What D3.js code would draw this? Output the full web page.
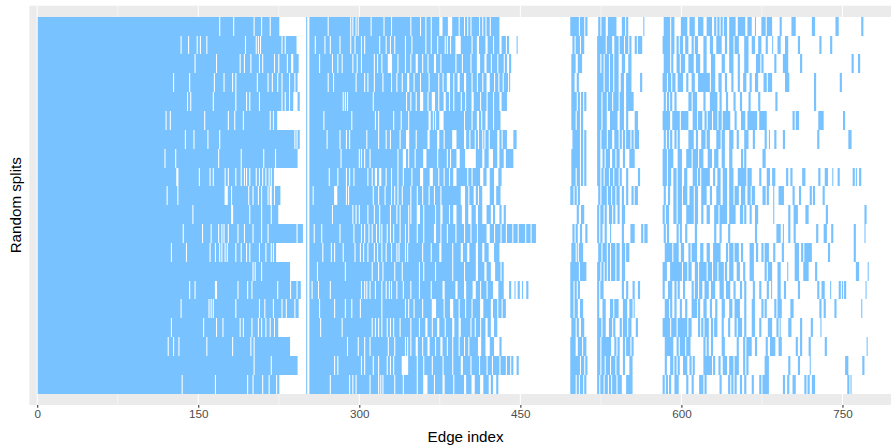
<!DOCTYPE html>
<html><head><meta charset="utf-8">
<script src="https://cdn.jsdelivr.net/npm/d3@7"></script>
<style>body{margin:0;background:#fff}svg{display:block}</style>
</head><body><svg id="chart" width="891" height="448"></svg>
<script>
// ---- data ----
const splitLabels = ["1","2","3","4","5","6","7","8","9","10","11","12","13","14","15","16","17","18","19","20"];
const edgeCount = 797;
const xTicks = [0,150,300,450,600,750];
const xMinorTicks = [75,225,375,525,675];
const xTitle = "Edge index";
const yTitle = "Random splits";
// blue runs per split: [firstEdge, lastEdge] (inclusive)
const split01 = [[1,169],[171,182],[184,201],[203,208],[210,216],[218,225],[251,251],[254,270],[272,291],[293,293],[295,296],[298,298],[300,310],[312,322],[324,329],[331,347],[349,356],[358,361],[363,366],[368,374],[378,382],[387,392],[394,397],[399,400],[402,403],[405,411],[413,414],[416,417],[419,421],[423,430],[497,504],[506,509],[511,512],[523,524],[526,529],[532,539],[545,547],[549,550],[565,565],[584,589],[591,593],[600,605],[608,612],[616,620],[624,628],[631,632],[634,635],[637,638],[640,642],[645,650],[653,659],[662,665],[669,669],[675,678],[680,684],[692,693],[703,706],[722,724],[744,746],[768,769]];
const split02 = [[1,133],[135,140],[142,148],[150,151],[153,157],[159,193],[195,203],[205,205],[207,207],[209,227],[229,230],[232,241],[251,251],[254,258],[260,267],[269,272],[274,281],[283,291],[293,295],[297,301],[303,304],[306,318],[320,324],[326,328],[330,332],[334,342],[344,348],[350,361],[363,366],[368,372],[374,379],[381,381],[383,384],[386,389],[395,404],[406,409],[412,417],[420,424],[426,430],[433,436],[438,439],[447,447],[499,500],[502,505],[507,509],[522,529],[531,535],[538,541],[543,546],[548,550],[552,553],[557,558],[560,563],[583,589],[591,593],[596,597],[599,601],[604,606],[610,611],[613,615],[621,623],[627,629],[633,637],[641,642],[645,648],[650,653],[659,662],[666,668],[672,674],[679,680],[685,685],[690,692],[697,699],[709,710],[729,730],[739,740]];
const split03 = [[1,146],[148,166],[168,188],[190,192],[194,198],[200,206],[208,209],[211,220],[222,224],[226,232],[234,236],[239,243],[251,251],[254,262],[264,274],[276,279],[281,283],[285,293],[295,297],[299,301],[303,313],[315,316],[318,320],[322,326],[331,335],[337,342],[344,347],[349,352],[355,358],[360,363],[365,369],[372,375],[377,389],[391,395],[397,403],[405,409],[413,416],[419,422],[424,428],[430,434],[436,437],[440,441],[498,501],[504,507],[522,524],[526,527],[529,532],[534,536],[538,541],[545,547],[551,553],[584,589],[591,592],[596,598],[600,603],[607,611],[614,617],[621,623],[628,631],[638,640],[645,648],[653,654],[659,662],[670,673],[675,676],[687,688],[695,699],[711,712],[759,760],[765,766]];
const split04 = [[1,126],[128,141],[143,164],[166,173],[175,181],[183,184],[186,204],[206,214],[216,218],[220,223],[225,227],[229,234],[236,239],[241,242],[251,251],[254,270],[272,275],[277,296],[298,304],[306,307],[309,313],[315,321],[323,329],[331,334],[336,339],[341,344],[347,350],[352,356],[358,364],[366,373],[375,377],[379,381],[385,387],[389,391],[394,397],[400,404],[406,409],[411,414],[416,418],[422,425],[427,429],[431,433],[435,438],[440,440],[498,500],[503,504],[522,527],[529,532],[534,536],[538,541],[544,546],[549,553],[562,563],[583,586],[588,590],[592,594],[597,601],[605,606],[610,612],[616,626],[628,631],[635,637],[641,642],[647,648],[653,654],[658,660],[664,665],[669,671],[677,679],[681,684],[697,700],[724,725],[748,749]];
const split05 = [[1,139],[141,142],[144,163],[165,184],[186,194],[196,197],[199,206],[208,227],[229,230],[232,234],[236,238],[243,244],[251,251],[254,284],[286,286],[288,288],[290,312],[314,343],[345,347],[349,352],[354,356],[360,363],[365,367],[371,373],[375,378],[381,383],[385,387],[389,394],[396,398],[400,404],[407,412],[414,418],[420,424],[426,430],[433,437],[498,502],[504,505],[507,508],[510,511],[522,525],[527,530],[532,535],[537,541],[543,546],[549,555],[584,585],[587,588],[590,591],[594,595],[607,609],[611,614],[621,622],[627,633],[636,637],[642,643],[649,650],[655,656],[663,664],[672,673],[688,689],[724,725]];
const split06 = [[1,119],[121,123],[125,155],[157,177],[179,183],[185,191],[193,216],[218,219],[221,223],[251,251],[254,266],[268,292],[294,314],[316,317],[319,331],[333,338],[340,345],[347,364],[367,368],[370,370],[372,374],[379,397],[399,404],[406,409],[412,413],[415,417],[420,424],[426,431],[498,501],[503,505],[507,508],[522,525],[527,530],[534,540],[543,546],[549,550],[557,559],[583,589],[592,598],[600,606],[611,614],[616,619],[622,623],[625,628],[630,633],[635,637],[639,645],[650,651],[656,659],[662,670],[673,679],[704,705],[707,709],[728,732],[751,752]];
const split07 = [[1,137],[139,145],[147,158],[160,169],[171,239],[241,241],[243,244],[251,251],[254,269],[271,281],[283,287],[289,290],[292,306],[308,317],[319,324],[326,328],[330,337],[339,343],[347,352],[354,363],[366,372],[375,378],[380,386],[391,397],[400,402],[404,407],[409,410],[412,414],[416,416],[418,420],[422,428],[431,432],[434,437],[444,446],[499,505],[507,508],[510,511],[522,524],[526,530],[532,535],[538,541],[543,544],[546,547],[549,552],[554,555],[557,560],[584,585],[587,588],[590,591],[594,595],[597,598],[607,611],[614,615],[619,622],[624,626],[633,636],[638,640],[645,648],[652,653],[659,662],[667,668],[678,679],[682,682],[687,688],[695,696],[727,728],[756,758]];
const split08 = [[1,118],[120,128],[130,168],[170,189],[191,210],[212,221],[223,242],[251,251],[254,282],[284,299],[301,301],[303,304],[306,309],[311,335],[337,340],[344,345],[347,351],[353,359],[363,372],[374,381],[383,384],[386,390],[394,398],[409,414],[417,420],[425,428],[431,434],[437,443],[498,505],[507,508],[510,511],[522,524],[527,528],[530,533],[536,538],[540,542],[546,547],[552,556],[583,586],[588,592],[597,600],[605,609],[611,615],[617,620],[625,628],[631,634],[638,640],[645,647],[656,657],[659,660],[676,678]];
const split09 = [[1,129],[132,150],[152,160],[162,163],[165,174],[176,177],[179,184],[186,189],[191,192],[194,194],[196,197],[199,203],[205,206],[208,209],[211,212],[214,215],[217,217],[219,220],[251,251],[254,271],[273,279],[281,287],[289,290],[292,294],[296,307],[309,311],[313,314],[317,318],[321,324],[326,329],[331,335],[337,340],[342,348],[350,356],[360,365],[369,373],[375,378],[380,383],[385,387],[391,400],[402,404],[406,412],[416,418],[422,425],[430,432],[498,501],[503,505],[507,508],[510,511],[522,524],[526,527],[529,532],[534,536],[538,541],[543,544],[549,550],[560,561],[583,586],[588,590],[593,595],[597,600],[603,605],[611,614],[616,617],[619,626],[630,631],[634,636],[639,642],[645,648],[653,660],[662,665],[673,674],[680,682],[685,687],[698,699],[702,703],[713,715],[728,729],[734,736],[741,741],[746,747],[760,761],[763,763],[766,767]];
const split10 = [[1,120],[122,130],[132,174],[178,180],[182,196],[198,200],[202,205],[207,208],[210,214],[216,216],[219,220],[222,226],[251,251],[254,256],[258,276],[280,287],[289,289],[291,312],[314,317],[319,323],[325,329],[331,332],[334,335],[337,339],[341,347],[349,353],[355,358],[360,364],[366,369],[371,375],[377,394],[399,401],[403,406],[409,410],[412,414],[422,425],[428,431],[497,499],[501,502],[504,505],[523,524],[526,530],[532,534],[536,538],[540,542],[545,546],[549,550],[554,555],[557,559],[584,585],[588,589],[593,595],[597,600],[602,605],[608,611],[613,615],[619,623],[627,628],[633,636],[639,642],[645,648],[650,653],[656,659],[662,664],[666,668],[676,678],[680,681],[686,686],[691,695],[704,705],[710,711],[720,721],[723,724],[732,733]];
const split11 = [[1,144],[146,180],[183,197],[199,208],[210,217],[219,224],[251,251],[254,274],[276,293],[295,296],[298,299],[301,307],[309,313],[315,318],[320,328],[330,334],[336,337],[339,345],[347,347],[349,353],[357,359],[361,370],[372,375],[378,383],[385,387],[391,395],[399,401],[405,408],[411,414],[419,422],[425,426],[431,432],[435,436],[503,504],[507,509],[522,523],[525,527],[529,530],[533,535],[537,538],[541,542],[545,547],[583,584],[586,588],[593,595],[597,600],[605,611],[613,615],[619,620],[624,626],[631,634],[636,642],[645,650],[655,657],[659,660],[664,665],[669,671],[686,686],[700,701],[705,708],[716,718],[735,736],[771,772]];
const split12 = [[1,135],[137,153],[155,161],[163,168],[170,171],[173,173],[175,177],[179,186],[188,192],[194,200],[202,208],[210,214],[216,241],[243,247],[251,251],[254,257],[259,264],[266,281],[283,294],[296,301],[303,304],[306,308],[310,311],[313,315],[317,318],[320,320],[322,325],[327,328],[330,331],[333,337],[339,342],[344,345],[347,353],[355,359],[361,369],[372,375],[377,381],[383,389],[391,397],[399,403],[405,409],[411,418],[422,425],[427,431],[433,436],[438,442],[444,447],[449,454],[456,459],[461,464],[499,500],[502,503],[506,507],[511,512],[522,523],[525,526],[529,530],[534,534],[545,546],[553,556],[563,564],[566,568],[584,585],[587,588],[596,597],[599,600],[604,605],[613,614],[631,632],[636,637],[644,645],[669,670],[689,692],[695,695],[700,701],[705,706],[726,727],[733,735],[740,741],[761,762],[771,771]];
const split13 = [[1,124],[126,138],[140,160],[162,165],[167,169],[171,171],[173,174],[176,176],[178,184],[186,189],[191,194],[196,197],[199,206],[208,212],[214,217],[219,219],[221,222],[251,251],[254,265],[267,273],[275,276],[278,284],[286,295],[297,300],[302,303],[305,307],[309,313],[315,316],[318,320],[322,324],[326,329],[331,334],[336,336],[338,342],[344,344],[346,358],[360,366],[368,374],[377,386],[388,394],[397,400],[403,408],[411,414],[417,420],[426,430],[498,501],[503,503],[505,508],[523,525],[527,530],[532,533],[535,538],[540,542],[545,547],[549,551],[585,591],[593,597],[600,602],[607,608],[610,614],[618,620],[624,626],[630,636],[642,643],[645,648],[650,653],[656,657],[664,667],[670,671],[675,676],[678,681],[686,687],[694,695],[706,709],[712,713],[715,721],[737,738],[761,762]];
const split14 = [[1,200],[202,202],[204,208],[210,235],[251,251],[254,260],[262,286],[288,311],[313,317],[319,321],[323,332],[334,339],[341,355],[357,359],[361,370],[372,386],[388,397],[399,408],[411,416],[419,422],[427,431],[433,434],[497,504],[506,511],[522,524],[526,527],[529,530],[532,533],[535,538],[540,542],[545,547],[583,586],[590,600],[602,605],[607,609],[613,615],[617,623],[625,628],[630,633],[635,639],[641,642],[645,648],[652,654],[658,659],[664,667],[678,679],[681,684],[690,692],[699,699],[706,709],[714,718],[725,726],[763,765],[774,774]];
const split15 = [[1,141],[143,146],[148,165],[168,186],[188,195],[197,199],[201,223],[225,235],[237,241],[243,245],[251,251],[254,255],[257,261],[263,272],[274,301],[303,304],[306,306],[308,309],[311,314],[316,320],[322,324],[326,327],[329,329],[331,334],[336,340],[342,347],[349,355],[357,366],[368,377],[380,389],[392,397],[400,405],[409,412],[414,418],[420,424],[430,434],[440,441],[445,445],[448,449],[452,452],[456,457],[497,499],[501,502],[504,505],[522,523],[525,527],[545,546],[549,550],[555,556],[560,561],[583,584],[588,591],[594,595],[597,598],[602,603],[610,611],[613,615],[617,619],[622,625],[628,631],[636,639],[642,645],[649,650],[655,656],[659,660],[667,668],[673,674],[680,681],[684,684],[690,692],[696,697],[709,710],[727,728],[731,733],[739,739],[747,748],[750,750],[752,753],[772,772]];
const split16 = [[1,133],[135,159],[161,161],[163,163],[165,184],[186,206],[208,211],[213,219],[221,227],[229,231],[233,239],[241,243],[251,251],[254,262],[264,276],[278,286],[288,292],[294,300],[302,320],[322,342],[344,345],[347,350],[352,358],[360,367],[372,378],[380,384],[388,392],[394,398],[400,404],[406,412],[416,422],[425,428],[430,432],[434,436],[497,499],[501,503],[506,508],[522,523],[527,529],[534,536],[538,541],[546,549],[552,554],[556,556],[585,588],[590,591],[594,595],[599,600],[604,605],[610,614],[616,617],[621,623],[627,628],[632,633],[638,640],[645,647],[650,654],[659,660],[666,668],[675,676],[678,679],[687,688],[690,693],[702,704],[729,730],[733,734],[743,744],[768,768]];
const split17 = [[1,124],[126,154],[156,166],[168,172],[174,188],[190,191],[193,199],[201,205],[207,208],[210,212],[214,216],[218,220],[222,224],[251,251],[254,263],[265,283],[285,311],[313,314],[316,317],[319,320],[322,325],[327,328],[330,331],[333,337],[339,347],[349,355],[357,361],[364,367],[369,372],[375,379],[381,386],[389,392],[395,403],[405,407],[409,412],[414,417],[420,422],[426,428],[498,501],[503,504],[507,509],[522,525],[527,529],[533,535],[537,538],[543,544],[546,549],[551,553],[558,559],[583,589],[591,595],[597,605],[607,609],[616,617],[619,620],[622,625],[628,629],[631,633],[638,639],[644,645],[650,651],[653,656],[659,660],[666,668],[673,674],[681,684],[689,690],[692,692],[700,702],[711,712],[721,722],[730,730]];
const split18 = [[1,121],[123,126],[128,131],[133,157],[159,181],[183,198],[200,201],[203,235],[251,251],[254,288],[290,298],[300,304],[306,309],[311,326],[328,332],[334,342],[344,344],[346,347],[349,352],[355,358],[360,363],[366,370],[372,375],[378,381],[383,386],[388,392],[394,397],[399,401],[403,410],[414,417],[422,425],[431,432],[497,501],[504,507],[509,511],[522,524],[526,534],[538,539],[541,542],[546,547],[549,552],[554,555],[585,592],[596,597],[599,603],[605,608],[621,622],[624,625],[628,629],[638,640],[652,653],[658,659],[661,665],[669,670],[679,680],[683,687],[691,693],[707,708],[711,712],[719,720],[734,735],[773,773]];
const split19 = [[1,201],[203,217],[219,242],[251,251],[254,276],[278,279],[281,301],[303,304],[306,312],[314,317],[319,325],[327,328],[330,331],[333,339],[346,353],[355,359],[361,367],[369,377],[379,386],[388,394],[397,403],[405,411],[413,418],[420,423],[425,430],[432,436],[438,440],[442,443],[447,448],[497,505],[507,509],[511,512],[522,524],[526,528],[530,533],[535,538],[540,542],[546,547],[552,554],[585,586],[590,592],[594,595],[597,598],[602,605],[608,609],[611,612],[621,628],[630,631],[635,636],[639,642],[645,648],[650,653],[658,659],[661,662],[678,681],[700,701],[709,710],[720,720],[753,755],[769,770]];
const split20 = [[1,134],[136,165],[167,195],[197,200],[202,209],[211,215],[217,222],[224,225],[251,251],[254,272],[274,290],[292,293],[295,296],[298,309],[311,317],[319,319],[321,321],[323,332],[334,340],[342,353],[355,359],[364,369],[371,377],[380,387],[389,397],[400,404],[408,412],[416,420],[423,424],[428,429],[497,501],[503,504],[506,508],[510,511],[522,523],[525,527],[529,531],[533,534],[536,539],[541,544],[549,554],[583,584],[586,587],[589,590],[594,597],[605,606],[610,611],[617,620],[622,623],[636,637],[644,645],[647,648],[650,651],[655,656],[659,660],[666,667],[673,674],[676,681],[695,696],[699,700],[704,706],[715,716],[718,719],[722,724],[755,756],[758,758]];

const splitRuns = [split01,split02,split03,split04,split05,split06,split07,split08,split09,split10,
                   split11,split12,split13,split14,split15,split16,split17,split18,split19,split20];

// ---- layout ----
const W = 891, H = 448;
const panel = {left: 29.2, right: 902, top: 5.5, bottom: 405};
const blue = "#78C2FF";
const fontFam = "'Liberation Sans', Arial, Helvetica, sans-serif";

const lo = 0.5, hi = edgeCount + 0.5, pad = (hi - lo) * 0.01;
const x = d3.scaleLinear().domain([lo - pad, hi + pad]).range([panel.left, panel.right]);
const y = d3.scaleBand().domain(splitLabels).range([panel.top, panel.bottom])
  .paddingInner(0).paddingOuter(0.6);
const yTop = d => Math.round(y(d));
const yH = d => Math.round(y(d) + y.bandwidth()) - Math.round(y(d));

const svg = d3.select("#chart");
svg.append("defs").append("clipPath").attr("id","clip")
  .append("rect").attr("x",panel.left).attr("y",panel.top)
  .attr("width",panel.right-panel.left).attr("height",panel.bottom-panel.top);

const g = svg.append("g").attr("clip-path","url(#clip)");
g.append("rect").attr("x",panel.left).attr("y",panel.top)
  .attr("width",panel.right-panel.left).attr("height",panel.bottom-panel.top)
  .attr("fill","#EBEBEB");

g.selectAll("line.minor").data(xMinorTicks).join("line").attr("class","minor")
  .attr("x1",d=>x(d)).attr("x2",d=>x(d)).attr("y1",panel.top).attr("y2",panel.bottom)
  .attr("stroke","#fff").attr("stroke-width",0.53);
g.selectAll("line.major").data(xTicks).join("line").attr("class","major")
  .attr("x1",d=>x(d)).attr("x2",d=>x(d)).attr("y1",panel.top).attr("y2",panel.bottom)
  .attr("stroke","#fff").attr("stroke-width",1.07);

// white (zero) tiles covering all splits
const firstS = splitLabels[0], lastS = splitLabels[splitLabels.length-1];
g.append("rect").attr("x",x(0.5)).attr("width",x(edgeCount+0.5)-x(0.5))
  .attr("y",yTop(firstS)).attr("height",yTop(lastS)+yH(lastS)-yTop(firstS)).attr("fill","#ffffff");

// blue (one) tiles
const runData = [];
splitRuns.forEach((runs,i)=>runs.forEach(r=>runData.push({s:splitLabels[i],a:r[0],b:r[1]})));
g.selectAll("rect.on").data(runData).join("rect").attr("class","on")
  .attr("x",d=>x(d.a-0.5)).attr("width",d=>x(d.b+0.5)-x(d.a-0.5))
  .attr("y",d=>yTop(d.s)).attr("height",d=>yH(d.s)).attr("fill",blue);

// x axis
const ax = svg.append("g").attr("transform",`translate(0,${panel.bottom})`)
  .call(d3.axisBottom(x).tickValues(xTicks).tickSize(2.74).tickPadding(2.2).tickFormat(d3.format("d")));
ax.select(".domain").remove();
ax.selectAll(".tick line").attr("stroke","#333333").attr("stroke-width",1.07);
ax.selectAll(".tick text").attr("fill","#4D4D4D").attr("font-size","11.7px").attr("font-family",fontFam);

svg.append("text").attr("x",(panel.left+panel.right)/2).attr("y",442)
  .attr("text-anchor","middle").attr("font-family",fontFam).attr("font-size","15.2px")
  .attr("fill","#000").text(xTitle);
svg.append("text").attr("transform",`translate(20.5,${(panel.top+panel.bottom)/2}) rotate(-90)`)
  .attr("text-anchor","middle").attr("font-family",fontFam).attr("font-size","15.2px")
  .attr("fill","#000").text(yTitle);
</script></body></html>
